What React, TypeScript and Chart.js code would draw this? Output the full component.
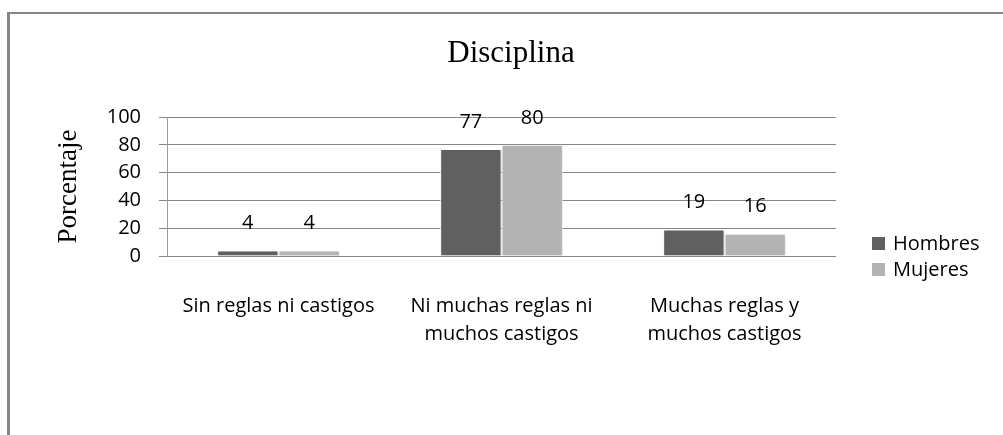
import React, { useEffect, useRef } from "react";
import { Chart, registerables } from "chart.js";

Chart.register(...registerables);

const categories: (string | string[])[] = [
  "Sin reglas ni castigos",
  ["Ni muchas reglas ni", "muchos castigos"],
  ["Muchas reglas y", "muchos castigos"],
];
const hombres = [4, 77, 19];
const mujeres = [4, 80, 16];
const seriesNames = ["Hombres", "Mujeres"];
const seriesColors = ["#606060", "#b3b3b3"];
const yTicks = [0, 20, 40, 60, 80, 100];
const chartTitle = "Disciplina";
const yTitle = "Porcentaje";

const SANS = "'Open Sans', 'DejaVu Sans', sans-serif";
const SERIF = "'Liberation Serif', 'DejaVu Serif', serif";

const titlePlugin = {
  id: "customTitle",
  afterDraw(chart: any) {
    const ctx = chart.ctx;
    ctx.save();
    ctx.font = `31px ${SERIF}`;
    ctx.fillStyle = "#000";
    ctx.textAlign = "center";
    ctx.textBaseline = "alphabetic";
    ctx.fillText(chartTitle, 511, 62);
    ctx.restore();
  },
};

const shadowPlugin = {
  id: "barShadow",
  beforeDatasetDraw(chart: any) {
    const ctx = chart.ctx;
    ctx.save();
    ctx.shadowColor = "rgba(0,0,0,0.18)";
    ctx.shadowBlur = 3;
    ctx.shadowOffsetX = 1;
    ctx.shadowOffsetY = 1;
  },
  afterDatasetDraw(chart: any) {
    chart.ctx.restore();
  },
};

const dataLabelPlugin = {
  id: "dataLabels",
  afterDatasetsDraw(chart: any) {
    const ctx = chart.ctx;
    ctx.save();
    ctx.font = `20px ${SANS}`;
    ctx.fillStyle = "#000";
    ctx.textAlign = "center";
    ctx.textBaseline = "middle";
    chart.data.datasets.forEach((ds: any, i: number) => {
      const meta = chart.getDatasetMeta(i);
      meta.data.forEach((el: any, j: number) => {
        ctx.fillText(String(ds.data[j]), el.x, el.y - 27);
      });
    });
    ctx.restore();
  },
};

const legendPlugin = {
  id: "customLegend",
  afterDraw(chart: any) {
    const ctx = chart.ctx;
    ctx.save();
    ctx.font = `20px ${SANS}`;
    ctx.textAlign = "left";
    ctx.textBaseline = "middle";
    chart.data.datasets.forEach((ds: any, i: number) => {
      const y = 237 + i * 26;
      ctx.fillStyle = ds.backgroundColor;
      ctx.fillRect(872, y, 13, 13);
      ctx.fillStyle = "#000";
      ctx.fillText(ds.label, 893, y + 7);
    });
    ctx.restore();
  },
};

export default function App() {
  const ref = useRef<HTMLCanvasElement>(null);
  useEffect(() => {
    if (!ref.current) return;
    const chart = new Chart(ref.current, {
      type: "bar",
      data: {
        labels: categories as any,
        datasets: [
          {
            label: seriesNames[0],
            data: hombres,
            backgroundColor: seriesColors[0],
            borderColor: "#ffffff",
            borderWidth: 1,
            barPercentage: 1,
            categoryPercentage: 0.55,
          },
          {
            label: seriesNames[1],
            data: mujeres,
            backgroundColor: seriesColors[1],
            borderColor: "#ffffff",
            borderWidth: 1,
            barPercentage: 1,
            categoryPercentage: 0.55,
          },
        ],
      },
      options: {
        animation: false,
        responsive: false,
        devicePixelRatio: 1,
        layout: { padding: { left: 50, top: 117, right: 167, bottom: 0 } },
        plugins: {
          legend: { display: false },
          title: { display: false },
          tooltip: { enabled: false },
        },
        scales: {
          x: {
            afterFit(scale: any) {
              scale.height = 179;
            },
            grid: { display: false },
            border: { display: false },
            ticks: {
              color: "#000",
              font: { family: SANS, size: 20, lineHeight: 1.4 },
              padding: 28,
              maxRotation: 0,
              minRotation: 0,
              autoSkip: false,
            },
          },
          y: {
            min: 0,
            max: 100,
            afterFit(scale: any) {
              scale.width = 117;
            },
            afterBuildTicks(scale: any) {
              scale.ticks = yTicks.map((v) => ({ value: v }));
            },
            grid: {
              color: "#868686",
              lineWidth: 1,
              tickLength: 8,
            },
            border: { display: true, color: "#9a9a9a" },
            ticks: {
              color: "#000",
              font: { family: SANS, size: 20 },
              padding: 18,
            },
            title: {
              display: true,
              text: yTitle,
              color: "#000",
              font: { family: SERIF, size: 27, lineHeight: 1.2 },
              padding: { top: 3, bottom: 0 },
            },
          },
        },
      },
      plugins: [titlePlugin, shadowPlugin, dataLabelPlugin, legendPlugin],
    });
    return () => chart.destroy();
  }, []);

  return (
    <div
      style={{
        position: "fixed",
        left: 0,
        top: 0,
        width: 1003,
        height: 435,
        background: "#fff",
        overflow: "hidden",
      }}
    >
      <div
        style={{
          position: "absolute",
          left: 7,
          top: 12,
          width: 1100,
          height: 600,
          borderLeft: "3px solid #868686",
          borderTop: "2px solid #868686",
          boxSizing: "border-box",
        }}
      />
      <canvas
        ref={ref}
        width={1003}
        height={435}
        style={{ position: "absolute", left: 0, top: 0, width: 1003, height: 435 }}
      />
    </div>
  );
}
